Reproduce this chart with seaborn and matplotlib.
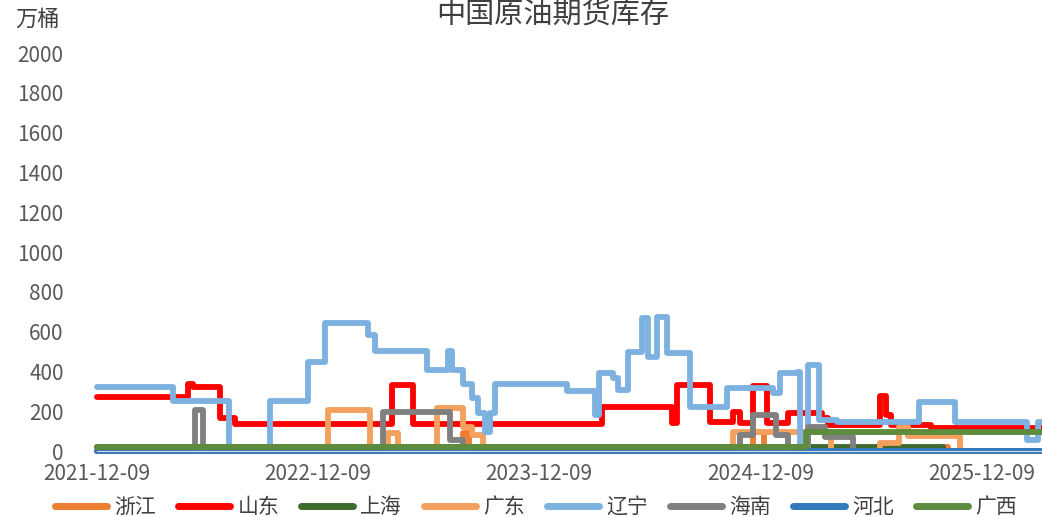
"""
中国原油期货库存 - step lines per region
"""

import pandas as pd
import matplotlib.pyplot as plt
import matplotlib.dates as mdates
from matplotlib.lines import Line2D
import seaborn as sns

END = "2026-03-19"

# change points (date, 万桶) for each region
zj_dates = ["2021-12-09", "2023-08-06", "2023-08-16", "2024-11-26", "2024-12-14",
            "2025-10-03", "2025-10-15", END]
zj_vals = [0, 90, 0, 95, 0, 20, 0, 0]

sd_dates = ["2021-12-09", "2022-05-08", "2022-05-17", "2022-06-30", "2022-07-25",
            "2023-04-10", "2023-05-15", "2024-03-23", "2024-07-15", "2024-07-24",
            "2024-09-16", "2024-10-24", "2024-11-05", "2024-11-26", "2024-12-20",
            "2025-01-23", "2025-03-21", "2025-03-30", "2025-06-25", "2025-07-04",
            "2025-07-12", "2025-09-16", END]
sd_vals = [270, 335, 320, 165, 135,
           330, 135, 220, 140, 330,
           145, 195, 140, 327, 140,
           190, 165, 130, 275, 180,
           130, 115, 115]

sh_dates = ["2021-12-09", "2025-02-25", "2025-10-07", END]
sh_vals = [20, 20, 0, 0]

gd_dates = ["2021-12-09", "2022-12-26", "2023-03-05", "2023-04-04", "2023-04-21",
            "2023-06-24", "2023-08-06", "2023-08-21", "2023-09-08", "2024-10-24",
            "2025-04-04", "2025-06-25", "2025-07-25", "2025-08-09", "2025-11-04", END]
gd_vals = [0, 206, 0, 90, 0,
           216, 121, 80, 0, 95,
           0, 40, 121, 75, 0, 0]

ln_dates = ["2021-12-09", "2022-04-14", "2022-07-15", "2022-09-21", "2022-11-23",
            "2022-12-21", "2023-03-02", "2023-03-13", "2023-06-07", "2023-07-12",
            "2023-07-19", "2023-08-06", "2023-08-21", "2023-08-31", "2023-09-11",
            "2023-09-20", "2023-09-28", "2024-01-24", "2024-03-10", "2024-03-18",
            "2024-04-09", "2024-04-17", "2024-05-04", "2024-05-28", "2024-06-06",
            "2024-06-21", "2024-07-07", "2024-08-14", "2024-10-14", "2024-12-30",
            "2025-01-11", "2025-02-08", "2025-02-13", "2025-02-25", "2025-03-15",
            "2025-04-15", "2025-08-27", "2025-10-27", "2026-02-23", "2026-03-12", END]
ln_vals = [320, 250, 0, 250, 445,
           643, 585, 505, 405, 505,
           405, 335, 265, 190, 95,
           190, 335, 300, 180, 390,
           365, 305, 497, 668, 472,
           673, 492, 221, 317, 291,
           392, 397, 0, 432, 156,
           146, 246, 146, 55, 146, 146]

hn_dates = ["2021-12-09", "2022-05-20", "2022-06-02", "2023-03-27", "2023-07-15",
            "2023-08-06", "2024-11-05", "2024-11-27", "2025-01-03", "2025-01-24",
            "2025-02-25", "2025-03-26", "2025-05-10", END]
hn_vals = [0, 206, 0, 196, 55,
           0, 80, 181, 80, 0,
           121, 70, 0, 0]

hb_dates = ["2021-12-09", END]
hb_vals = [0, 0]

gx_dates = ["2021-12-09", "2025-02-22", END]
gx_vals = [20, 97, 97]

regions = ["浙江", "山东", "上海", "广东", "辽宁", "海南", "河北", "广西"]
colors = ["#ED7D31", "#FF0000", "#3F6A2E", "#F4A05E", "#7DB1E0", "#808080", "#3278BD", "#5C8C3C"]
series = [(zj_dates, zj_vals), (sd_dates, sd_vals), (sh_dates, sh_vals), (gd_dates, gd_vals),
          (ln_dates, ln_vals), (hn_dates, hn_vals), (hb_dates, hb_vals), (gx_dates, gx_vals)]

frames = []
for name, (d, v) in zip(regions, series):
    frames.append(pd.DataFrame({"date": pd.to_datetime(d), "value": v, "region": name}))
df = pd.concat(frames, ignore_index=True)

sns.set_style("white")
plt.rcParams["font.family"] = ["Noto Sans CJK SC", "DejaVu Sans"]

fig = plt.figure(figsize=(10.42, 5.17), dpi=100)
ax = fig.add_axes([97 / 1042, 1 - 451 / 517, 945 / 1042, 398 / 517])

palette = dict(zip(regions, colors))
sns.lineplot(data=df, x="date", y="value", hue="region", hue_order=regions,
             palette=palette, drawstyle="steps-post", linewidth=4.2,
             legend=False, ax=ax, estimator=None, sort=False, clip_on=False)

ax.set_xlim(pd.Timestamp("2021-12-09"), pd.Timestamp(END))
ax.set_ylim(0, 2000)
ax.set_yticks(range(0, 2001, 200))
ticks = pd.to_datetime(["2021-12-09", "2022-12-09", "2023-12-09", "2024-12-09", "2025-12-09"])
ax.set_xticks(ticks)
ax.xaxis.set_major_formatter(mdates.DateFormatter("%Y-%m-%d"))
ax.set_xlabel("")
ax.set_ylabel("")

for s in ["top", "right", "left"]:
    ax.spines[s].set_visible(False)
ax.spines["bottom"].set_color("#D9D9D9")
ax.tick_params(axis="y", length=0, pad=24, labelsize=15, labelcolor="#595959")
ax.tick_params(axis="x", length=6, width=1, color="#D9D9D9", pad=3,
               labelsize=15, labelcolor="#595959")

fig.text(553 / 1042, 1 - 16 / 517, "中国原油期货库存", ha="center", va="center",
         fontsize=21, color="#404040")
fig.text(15 / 1042, 1 - 19 / 517, "万桶", ha="left", va="center",
         fontsize=16, color="#404040")

handles = [Line2D([0], [0], color=c, linewidth=5, solid_capstyle="round") for c in colors]
fig.legend(handles, regions, loc="center", bbox_to_anchor=(536 / 1042, 1 - 507 / 517),
           ncol=8, frameon=False, fontsize=15, handlelength=2.5, handletextpad=0.35,
           columnspacing=1.05, labelcolor="#404040", borderpad=0.2)

fig.savefig("out.png", dpi=100)
